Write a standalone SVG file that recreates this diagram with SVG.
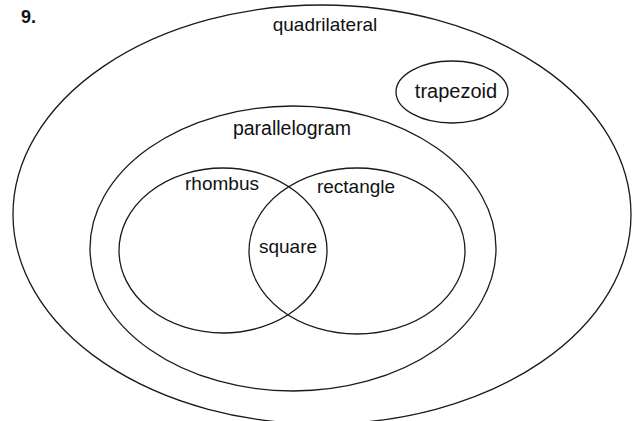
<svg xmlns="http://www.w3.org/2000/svg" width="632" height="421" viewBox="0 0 632 421">
  <style>
    .set { fill: none; stroke: #1a1a1a; stroke-width: 1.3; }
    .lbl { font-family: "Liberation Sans", Arial, sans-serif; font-size: 19px; fill: #111; text-anchor: middle; }
    .num { font-family: "Liberation Sans", Arial, sans-serif; font-size: 18px; font-weight: bold; fill: #111; }
  </style>
  <rect width="632" height="421" fill="#ffffff"/>
  <text class="num" x="21" y="23">9.</text>
  <g id="quadrilateral">
    <ellipse class="set" cx="322" cy="214.5" rx="309" ry="209.5"/>
    <text class="lbl" x="325" y="31">quadrilateral</text>
  </g>
  <g id="trapezoid">
    <ellipse class="set" cx="452" cy="92" rx="56" ry="31"/>
    <text class="lbl" x="456" y="98" style="font-size:20px">trapezoid</text>
  </g>
  <g id="parallelogram">
    <ellipse class="set" cx="293" cy="248.5" rx="203" ry="142.5"/>
    <text class="lbl" x="292" y="135" style="font-size:19.5px">parallelogram</text>
  </g>
  <g id="rhombus">
    <ellipse class="set" cx="223" cy="250.5" rx="104" ry="82.5"/>
    <text class="lbl" x="222" y="190">rhombus</text>
  </g>
  <g id="rectangle">
    <ellipse class="set" cx="357" cy="251" rx="108" ry="83"/>
    <text class="lbl" x="356" y="193">rectangle</text>
  </g>
  <g id="square">
    <text class="lbl" x="288" y="253">square</text>
  </g>
</svg>
